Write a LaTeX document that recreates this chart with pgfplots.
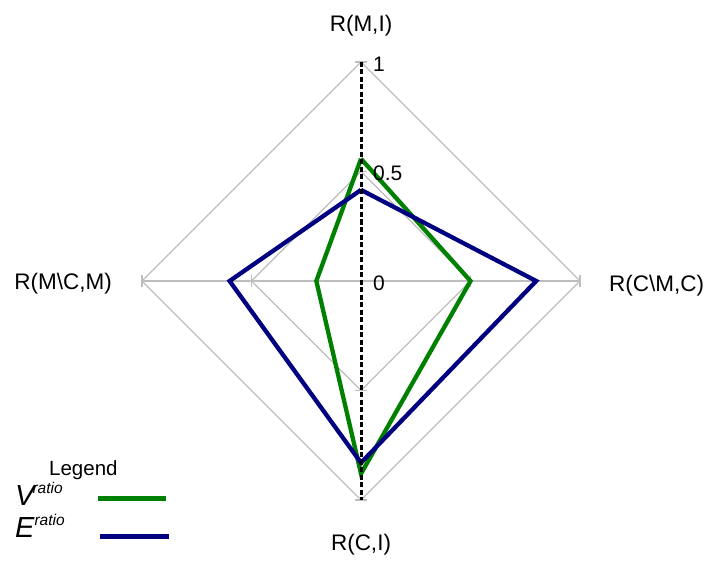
\documentclass[border=0pt]{standalone}
\usepackage{pgfplots}
\pgfplotsset{compat=1.18}
\usepackage{fontspec}
\setmainfont{Liberation Sans}
\definecolor{gridgray}{RGB}{190,190,190}
\definecolor{vgreen}{RGB}{0,128,0}
\definecolor{enavy}{RGB}{0,0,128}
\begin{document}
\begin{tikzpicture}
\useasboundingbox (0pt,0pt) rectangle (711pt,560pt);
\begin{axis}[
  at={(361pt,279pt)}, anchor=center,
  width=438pt, height=438pt, scale only axis,
  xmin=-1, xmax=1, ymin=-1, ymax=1,
  hide axis, clip=false,
]
% grid diamonds
\draw[gridgray, line width=1.1pt] (axis cs:0,1) -- (axis cs:1,0) -- (axis cs:0,-1) -- (axis cs:-1,0) -- cycle;
\draw[gridgray, line width=1.1pt] (axis cs:0,0.5) -- (axis cs:0.5,0) -- (axis cs:0,-0.5) -- (axis cs:-0.5,0) -- cycle;
\draw[gridgray, line width=1.1pt] (axis cs:-1,0) -- (axis cs:1,0);
% ticks
\draw[gridgray, line width=1.1pt] (axis cs:-0.026,1) -- (axis cs:0.026,1);
\draw[gridgray, line width=1.1pt] (axis cs:-0.026,0.5) -- (axis cs:0.026,0.5);
\draw[gridgray, line width=1.1pt] (axis cs:-0.026,0) -- (axis cs:0.026,0);
\draw[gridgray, line width=1.1pt] (axis cs:-0.026,-0.5) -- (axis cs:0.026,-0.5);
\draw[gridgray, line width=1.1pt] (axis cs:-0.026,-1) -- (axis cs:0.026,-1);
\draw[gridgray, line width=1.1pt] (axis cs:1,-0.026) -- (axis cs:1,0.026);
\draw[gridgray, line width=1.1pt] (axis cs:0.5,-0.026) -- (axis cs:0.5,0.026);
\draw[gridgray, line width=1.1pt] (axis cs:-0.5,-0.026) -- (axis cs:-0.5,0.026);
\draw[gridgray, line width=1.1pt] (axis cs:-1,-0.026) -- (axis cs:-1,0.026);
% series
\addplot[vgreen, line width=4.3pt, line join=miter] coordinates {(0,0.558) (0.50,0) (0,-0.88) (-0.204,0) (0,0.558)};
\addplot[enavy, line width=4.3pt, line join=miter] coordinates {(0,0.416) (0.80,0) (0,-0.83) (-0.60,0) (0,0.416)};
% dashed axis
\draw[black, line width=3pt, dash pattern=on 5pt off 2.5pt] (axis cs:0,1) -- (axis cs:0,-1);
\end{axis}
% tick labels
\begin{scope}[every node/.style={inner sep=0pt, font=\fontsize{21}{24}\selectfont}]
\node[anchor=west] at (373pt,496pt) {1};
\node[anchor=west] at (373pt,387pt) {0.5};
\node[anchor=west] at (373pt,277pt) {0};
\end{scope}
% axis labels
\begin{scope}[every node/.style={inner sep=0pt, font=\fontsize{22.5}{26}\selectfont}]
\node[anchor=base] at (361pt,528.3pt) {R(M,I)};
\node[anchor=base west] at (609pt,268.3pt) {R(C\textbackslash M,C)};
\node[anchor=base east] at (112pt,270pt) {R(M\textbackslash C,M)};
\node[anchor=base] at (361pt,10pt) {R(C,I)};
\end{scope}
% legend
\node[anchor=base west, inner sep=0pt, font=\fontsize{20.5}{24}\selectfont] at (49pt,85pt) {Legend};
\node[anchor=base west, inner sep=0pt, font=\fontsize{29}{32}\selectfont\itshape] at (15pt,55pt) {V\kern-2pt\raisebox{12pt}{\fontsize{15.5}{17}\selectfont ratio}};
\node[anchor=base west, inner sep=0pt, font=\fontsize{29}{32}\selectfont\itshape] at (15pt,23pt) {E\kern0pt\raisebox{12pt}{\fontsize{15.5}{17}\selectfont ratio}};
\draw[vgreen, line width=4.5pt] (98pt,61.7pt) -- (166pt,61.7pt);
\draw[enavy, line width=4.5pt] (100pt,23.3pt) -- (169pt,23.3pt);
\end{tikzpicture}
\end{document}
